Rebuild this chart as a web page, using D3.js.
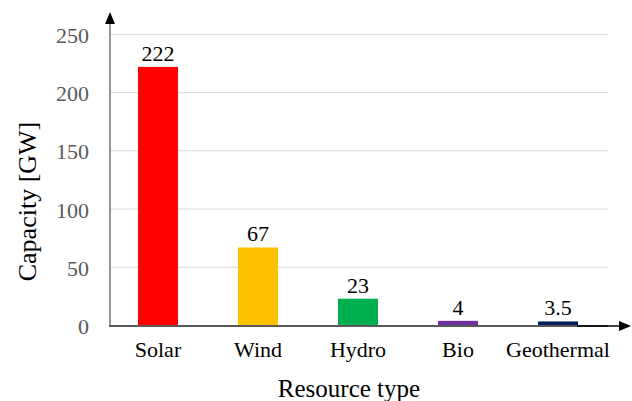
<!DOCTYPE html>
<html><head><meta charset="utf-8">
<script src="https://cdn.jsdelivr.net/npm/d3@7"></script>
<style>body{margin:0;background:#fff}svg{display:block}svg text{font-family:"Times New Roman",Tinos,"Liberation Serif",Times,serif}</style>
</head><body><svg id="c" width="632" height="401"></svg>
<script>
const categories = ["Solar","Wind","Hydro","Bio","Geothermal"];
const values = [222,67,23,4,3.5];
const valueLabels = ["222","67","23","4","3.5"];
const colors = ["#ff0000","#ffc000","#00b050","#7030a0","#002060"];
const yTicks = [0,50,100,150,200,250];

const svg = d3.select("#c");
const x = d3.scaleBand().domain(categories).range([108,608]).paddingInner(0.6).paddingOuter(0.3);
const y = d3.scaleLinear().domain([0,250]).range([325.5,34.3]);

svg.append("g").selectAll("line").data(yTicks.filter(d=>d>0)).join("line")
  .attr("x1",110).attr("x2",608).attr("y1",d=>y(d)).attr("y2",d=>y(d))
  .attr("stroke","#d9d9d9").attr("stroke-width",1);

svg.append("g").selectAll("text").data(yTicks).join("text")
  .attr("x",89).attr("y",d=>y(d)+8.5).attr("text-anchor","end")
  .attr("font-size",22).attr("fill","#595959").text(d=>d);

svg.append("g").selectAll("rect").data(values).join("rect")
  .attr("x",(d,i)=>x(categories[i])).attr("width",x.bandwidth())
  .attr("y",d=>y(d)).attr("height",d=>y(0)-y(d))
  .attr("fill",(d,i)=>colors[i]);

svg.append("g").selectAll("text").data(values).join("text")
  .attr("x",(d,i)=>x(categories[i])+x.bandwidth()/2).attr("y",d=>y(d)-6)
  .attr("text-anchor","middle").attr("font-size",22).attr("fill","#000")
  .text((d,i)=>valueLabels[i]);

svg.append("g").selectAll("text").data(categories).join("text")
  .attr("x",d=>x(d)+x.bandwidth()/2).attr("y",357)
  .attr("text-anchor","middle").attr("font-size",22).attr("fill","#000").text(d=>d);

svg.append("line").attr("x1",110).attr("x2",110).attr("y1",326).attr("y2",22)
  .attr("stroke","#7f7f7f").attr("stroke-width",1.6);
svg.append("path").attr("d","M110,12 L105,24 L115,24 Z").attr("fill","#000");
svg.append("line").attr("x1",109).attr("x2",608).attr("y1",326).attr("y2",326)
  .attr("stroke","#595959").attr("stroke-width",2);
svg.append("line").attr("x1",577).attr("x2",622).attr("y1",326).attr("y2",326)
  .attr("stroke","#000").attr("stroke-width",1.6);
svg.append("path").attr("d","M631,326 L619,321 L619,331 Z").attr("fill","#000");

svg.append("text").attr("x",349).attr("y",397).attr("text-anchor","middle")
  .attr("font-size",25).attr("fill","#000").text("Resource type");
svg.append("text").attr("transform","translate(36,201.5) rotate(-90)").attr("text-anchor","middle")
  .attr("font-size",26).attr("fill","#000").text("Capacity [GW]");
</script></body></html>
